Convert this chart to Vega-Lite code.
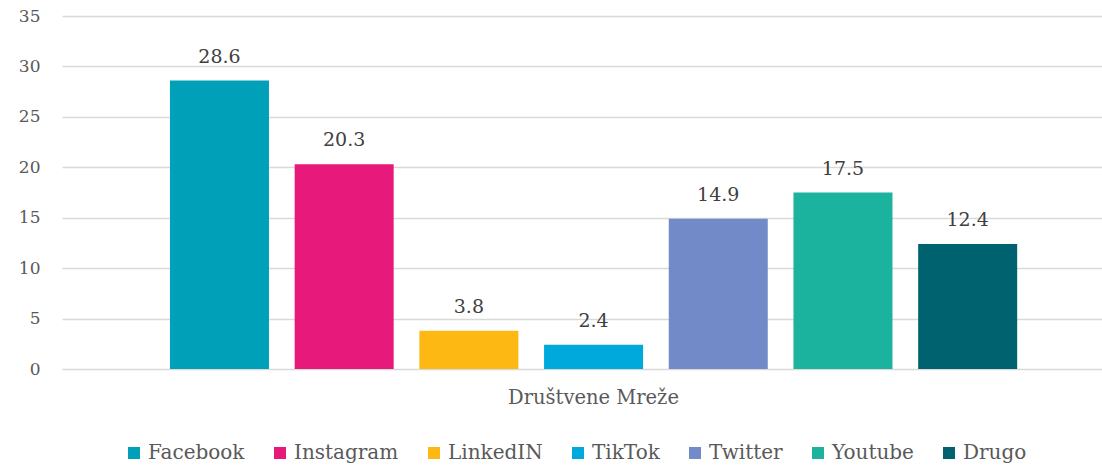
{
  "$schema": "https://vega.github.io/schema/vega-lite/v6.json",
  "autosize": {"type": "none"},
  "padding": {"left": 62, "top": 16, "right": 0, "bottom": 96},
  "width": 1040,
  "height": 353,
  "background": "white",
  "data": {
    "values": [
      {"mreza": "Facebook", "vrijednost": 28.6},
      {"mreza": "Instagram", "vrijednost": 20.3},
      {"mreza": "LinkedIN", "vrijednost": 3.8},
      {"mreza": "TikTok", "vrijednost": 2.4},
      {"mreza": "Twitter", "vrijednost": 14.9},
      {"mreza": "Youtube", "vrijednost": 17.5},
      {"mreza": "Drugo", "vrijednost": 12.4}
    ]
  },
  "config": {
    "font": "DejaVu Serif",
    "view": {"stroke": null}
  },
  "encoding": {
    "x": {
      "field": "mreza",
      "type": "nominal",
      "sort": ["Facebook", "Instagram", "LinkedIN", "TikTok", "Twitter", "Youtube", "Drugo"],
      "scale": {"paddingInner": 0.206, "paddingOuter": 0.773, "align": 0.56},
      "axis": {
        "title": "Društvene Mreže",
        "labels": false,
        "ticks": false,
        "domain": false,
        "titleFont": "DejaVu Serif",
        "titleFontSize": 19.5,
        "titleFontWeight": "normal",
        "titleColor": "#595959",
        "titleX": 531,
        "titleY": 28,
        "titleBaseline": "middle"
      }
    },
    "y": {
      "field": "vrijednost",
      "type": "quantitative",
      "scale": {"domain": [0, 35], "nice": false},
      "axis": {
        "title": null,
        "values": [0, 5, 10, 15, 20, 25, 30, 35],
        "domain": false,
        "ticks": false,
        "tickSize": 0,
        "labelPadding": 22,
        "labelFontSize": 17,
        "labelColor": "#595959",
        "gridColor": "#D9D9D9",
        "gridWidth": 1.5
      }
    }
  },
  "layer": [
    {
      "mark": {"type": "bar"},
      "encoding": {
        "color": {
          "field": "mreza",
          "type": "nominal",
          "sort": ["Facebook", "Instagram", "LinkedIN", "TikTok", "Twitter", "Youtube", "Drugo"],
          "scale": {
            "domain": ["Facebook", "Instagram", "LinkedIN", "TikTok", "Twitter", "Youtube", "Drugo"],
            "range": ["#00A0B8", "#E7197B", "#FDB813", "#00A9DB", "#728BC8", "#1BB39D", "#00626F"]
          },
          "legend": {
            "title": null,
            "orient": "none",
            "direction": "horizontal",
            "columns": 7,
            "legendX": 62,
            "legendY": 427,
            "symbolType": "square",
            "symbolSize": 144,
            "symbolStrokeWidth": 0,
            "labelFontSize": 20,
            "labelColor": "#595959",
            "labelOffset": 4,
            "columnPadding": 25
          }
        }
      }
    },
    {
      "mark": {"type": "text", "baseline": "alphabetic", "dy": -18, "fontSize": 19, "color": "#404040"},
      "encoding": {
        "text": {"field": "vrijednost", "type": "quantitative", "format": ".1f"}
      }
    }
  ]
}
